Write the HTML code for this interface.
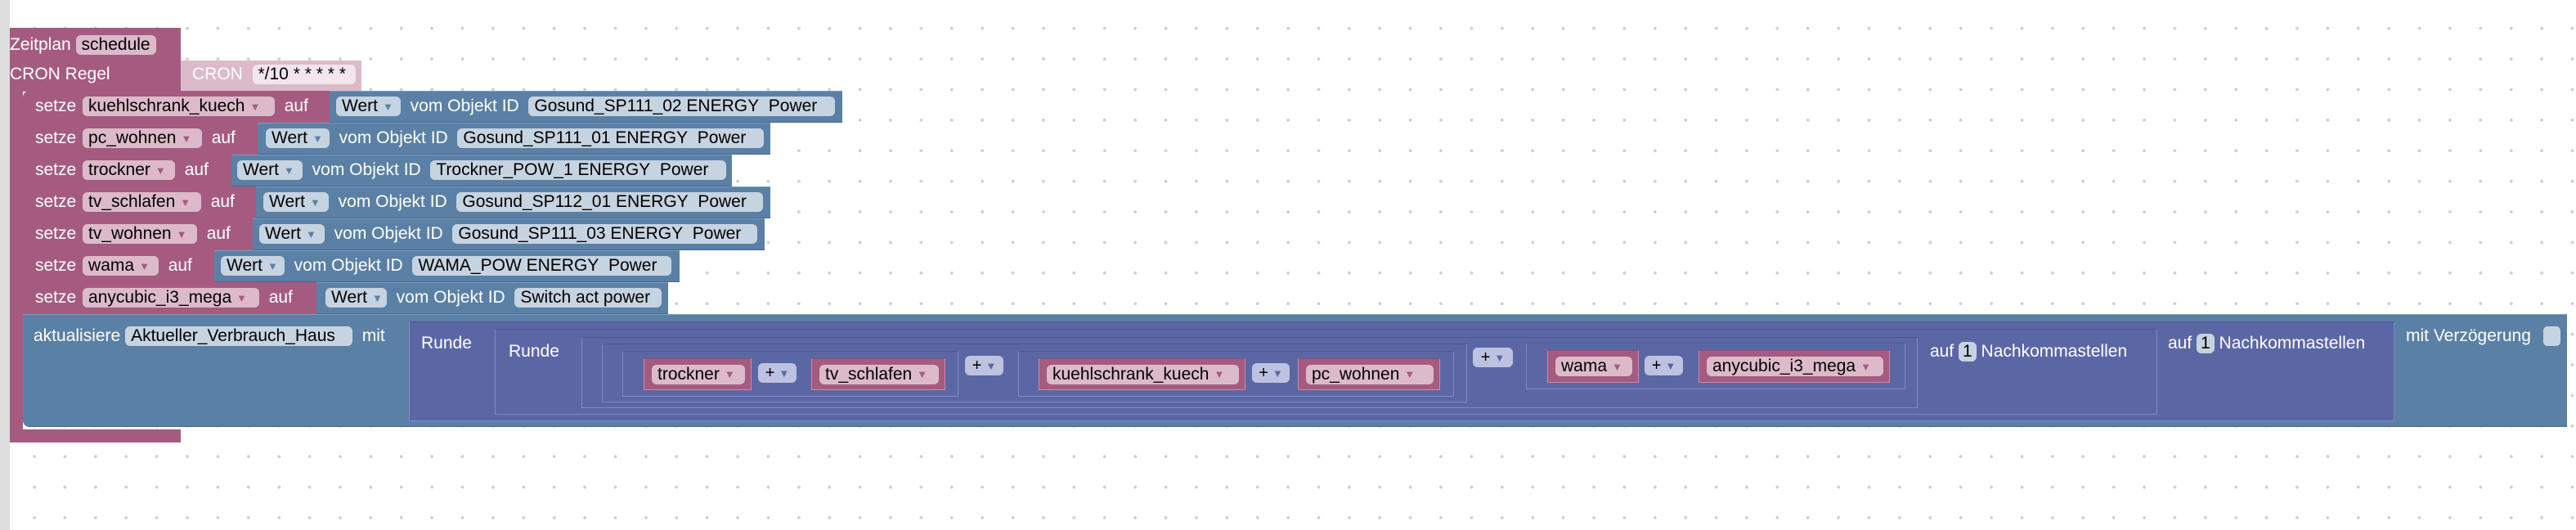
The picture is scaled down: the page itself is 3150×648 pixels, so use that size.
<!DOCTYPE html>
<html><head><meta charset="utf-8">
<style>
*{box-sizing:border-box;margin:0;padding:0}
body{width:3150px;height:648px;position:relative;overflow:hidden;background:#fff;font-family:"Liberation Sans",sans-serif;font-size:21px;}
.grid{position:absolute;left:12px;top:0;width:3138px;height:648px;
background-image:radial-gradient(circle,#cfcfcf 1.6px,transparent 2.2px);
background-size:37.4px 37.4px;background-position:-26px 16px;}
.strip{position:absolute;left:0;top:0;width:12px;height:648px;background:#dedede}
.a{position:absolute}
.pink{background:#a55b80}
.blue{background:#5b80a5;border-top:1px solid #7f9bbb;border-bottom:1px solid #46678a}
.purp{background:#5b67a5}
.row{position:absolute;display:flex;align-items:center;color:#fff;white-space:nowrap}
.f{display:inline-flex;align-items:center;height:24px;border-radius:6px;padding:0 7px;color:#000}
.fp{background:#dcbaca}
.fb{background:#c6d3e1}
.arr{font-size:13px;margin-left:6px}
.ap{color:#a55b80}.ab{color:#5b80a5}
.box{position:absolute;border:1px solid #7f89bd;border-top-color:#4b5590;border-right-color:#7f89bd;background:#5b67a5}
.var{position:absolute;background:#a55b80;border:1px solid #c98aa8;border-top-color:#8e4a6c;display:flex;align-items:center;padding-left:9px}
.op{position:absolute;background:#bdc2e0;border-radius:6px;display:flex;align-items:center;justify-content:center;color:#000;font-size:20px}
.op span{color:#5b67a5;font-size:13px;margin-left:5px}
.lbl{position:absolute;color:#fff;white-space:nowrap;line-height:24px}
</style></head><body>
<div class="grid"></div>
<div class="strip"></div>

<!-- hat -->
<div class="a pink" style="left:12px;top:34px;width:209px;height:78px"></div>
<div class="a" style="left:221px;top:74px;width:221px;height:38px;background:#dcbaca"></div>
<div class="a pink" style="left:12px;top:112px;width:16px;height:429px"></div>
<div class="a pink" style="left:12px;top:525px;width:209px;height:16px"></div>
<div class="row" style="left:12px;top:43px;height:24px">Zeitplan&nbsp;<span class="f fp">schedule</span></div>
<div class="lbl" style="left:12px;top:79px">CRON Regel</div>
<div class="row" style="left:235px;top:79px;height:24px;color:#fff">CRON&nbsp;&nbsp;<span class="f" style="background:#f3e5ec;width:126px">*/10 * * * * *</span></div>

<!-- setze rows -->
<div class="a pink" style="left:28px;top:111px;width:376px;height:39px;border-radius:8px 0 0 0"></div>
<div class="a blue" style="left:403px;top:111px;width:627px;height:39px"></div>
<div class="row" style="left:43px;top:118px;height:24px">setze&nbsp;<span class="f fp" style="margin-left:2px;width:235px">kuehlschrank_kuech<span class="arr ap">▼</span></span>&nbsp;&nbsp;auf</div>
<div class="row" style="left:411px;top:118px;height:24px"><span class="f fb" style="width:79px">Wert<span class="arr ab">▼</span></span>&nbsp;&nbsp;vom Objekt ID&nbsp;&nbsp;<span class="f fb" style="width:375px">Gosund_SP111_02 ENERGY&nbsp; Power</span></div>

<div class="a pink" style="left:28px;top:150px;width:288px;height:39px"></div>
<div class="a blue" style="left:315px;top:150px;width:627px;height:39px"></div>
<div class="row" style="left:43px;top:157px;height:24px">setze&nbsp;<span class="f fp" style="margin-left:2px;width:146px">pc_wohnen<span class="arr ap">▼</span></span>&nbsp;&nbsp;auf</div>
<div class="row" style="left:325px;top:157px;height:24px"><span class="f fb" style="width:78px">Wert<span class="arr ab">▼</span></span>&nbsp;&nbsp;vom Objekt ID&nbsp;&nbsp;<span class="f fb" style="width:375px">Gosund_SP111_01 ENERGY&nbsp; Power</span></div>

<div class="a pink" style="left:28px;top:189px;width:256px;height:39px"></div>
<div class="a blue" style="left:283px;top:189px;width:612px;height:39px"></div>
<div class="row" style="left:43px;top:196px;height:24px">setze&nbsp;<span class="f fp" style="margin-left:2px;width:113px">trockner<span class="arr ap">▼</span></span>&nbsp;&nbsp;auf</div>
<div class="row" style="left:290px;top:196px;height:24px"><span class="f fb" style="width:80px">Wert<span class="arr ab">▼</span></span>&nbsp;&nbsp;vom Objekt ID&nbsp;&nbsp;<span class="f fb" style="width:362px">Trockner_POW_1 ENERGY&nbsp; Power</span></div>

<div class="a pink" style="left:28px;top:228px;width:286px;height:39px"></div>
<div class="a blue" style="left:313px;top:228px;width:629px;height:39px"></div>
<div class="row" style="left:43px;top:235px;height:24px">setze&nbsp;<span class="f fp" style="margin-left:2px;width:145px">tv_schlafen<span class="arr ap">▼</span></span>&nbsp;&nbsp;auf</div>
<div class="row" style="left:322px;top:235px;height:24px"><span class="f fb" style="width:80px">Wert<span class="arr ab">▼</span></span>&nbsp;&nbsp;vom Objekt ID&nbsp;&nbsp;<span class="f fb" style="width:375px">Gosund_SP112_01 ENERGY&nbsp; Power</span></div>

<div class="a pink" style="left:28px;top:267px;width:282px;height:39px"></div>
<div class="a blue" style="left:309px;top:267px;width:626px;height:39px"></div>
<div class="row" style="left:43px;top:274px;height:24px">setze&nbsp;<span class="f fp" style="margin-left:2px;width:140px">tv_wohnen<span class="arr ap">▼</span></span>&nbsp;&nbsp;auf</div>
<div class="row" style="left:317px;top:274px;height:24px"><span class="f fb" style="width:80px">Wert<span class="arr ab">▼</span></span>&nbsp;&nbsp;vom Objekt ID&nbsp;&nbsp;<span class="f fb" style="width:373px">Gosund_SP111_03 ENERGY&nbsp; Power</span></div>

<div class="a pink" style="left:28px;top:306px;width:235px;height:39px"></div>
<div class="a blue" style="left:262px;top:306px;width:569px;height:39px"></div>
<div class="row" style="left:43px;top:313px;height:24px">setze&nbsp;<span class="f fp" style="margin-left:2px;width:93px">wama<span class="arr ap">▼</span></span>&nbsp;&nbsp;auf</div>
<div class="row" style="left:270px;top:313px;height:24px"><span class="f fb" style="width:78px">Wert<span class="arr ab">▼</span></span>&nbsp;&nbsp;vom Objekt ID&nbsp;&nbsp;<span class="f fb" style="width:317px">WAMA_POW ENERGY&nbsp; Power</span></div>

<div class="a pink" style="left:28px;top:345px;width:360px;height:39px"></div>
<div class="a blue" style="left:387px;top:345px;width:430px;height:39px"></div>
<div class="row" style="left:43px;top:352px;height:24px">setze&nbsp;<span class="f fp" style="margin-left:2px;width:216px">anycubic_i3_mega<span class="arr ap">▼</span></span>&nbsp;&nbsp;auf</div>
<div class="row" style="left:398px;top:352px;height:24px"><span class="f fb" style="width:75px">Wert<span class="arr ab">▼</span></span>&nbsp;&nbsp;vom Objekt ID&nbsp;&nbsp;<span class="f fb" style="width:180px">Switch act power</span></div>

<!-- update block -->
<div class="a blue" style="left:28px;top:384px;width:3111px;height:138px;border-radius:0 0 0 8px"></div>
<div class="row" style="left:41px;top:399px;height:24px">aktualisiere&nbsp;<span class="f fb" style="width:278px">Aktueller_Verbrauch_Haus</span>&nbsp;&nbsp;mit</div>
<div class="lbl" style="left:2942px;top:399px">mit Verzögerung</div>
<div class="a" style="left:3110px;top:399px;width:21px;height:24px;background:#c6d3e1;border-radius:5px"></div>

<div class="box" style="left:500px;top:393px;width:2428px;height:122px"></div>
<div class="lbl" style="left:515px;top:408px">Runde</div>
<div class="box" style="left:605px;top:402px;width:2033px;height:105px"></div>
<div class="lbl" style="left:622px;top:418px">Runde</div>
<div class="lbl" style="left:2651px;top:408px">auf <span class="f fb" style="padding:0 5px">1</span> Nachkommastellen</div>
<div class="box" style="left:711px;top:412px;width:1634px;height:87px"></div>
<div class="lbl" style="left:2360px;top:418px">auf <span class="f fb" style="padding:0 5px">1</span> Nachkommastellen</div>
<div class="box" style="left:736px;top:420px;width:1058px;height:72px"></div>
<div class="box" style="left:761px;top:429px;width:411px;height:56px"></div>
<div class="box" style="left:1245px;top:429px;width:533px;height:56px"></div>
<div class="box" style="left:1866px;top:419px;width:464px;height:57px"></div>

<div class="var" style="left:787px;top:438px;width:132px;height:39px"><span class="f fp" style="width:114px">trockner<span class="arr ap">▼</span></span></div>
<div class="op" style="left:927px;top:444px;width:47px;height:24px">+<span>▼</span></div>
<div class="var" style="left:992px;top:438px;width:164px;height:39px"><span class="f fp" style="width:146px">tv_schlafen<span class="arr ap">▼</span></span></div>
<div class="op" style="left:1180px;top:435px;width:47px;height:24px">+<span>▼</span></div>
<div class="var" style="left:1270px;top:438px;width:253px;height:39px"><span class="f fp" style="width:235px">kuehlschrank_kuech<span class="arr ap">▼</span></span></div>
<div class="op" style="left:1531px;top:444px;width:46px;height:24px">+<span>▼</span></div>
<div class="var" style="left:1587px;top:438px;width:174px;height:39px"><span class="f fp" style="width:156px">pc_wohnen<span class="arr ap">▼</span></span></div>
<div class="op" style="left:1801px;top:425px;width:49px;height:24px">+<span>▼</span></div>
<div class="var" style="left:1892px;top:428px;width:112px;height:40px"><span class="f fp" style="width:94px">wama<span class="arr ap">▼</span></span></div>
<div class="op" style="left:2011px;top:435px;width:47px;height:24px">+<span>▼</span></div>
<div class="var" style="left:2077px;top:428px;width:234px;height:40px"><span class="f fp" style="width:216px">anycubic_i3_mega<span class="arr ap">▼</span></span></div>
</body></html>
